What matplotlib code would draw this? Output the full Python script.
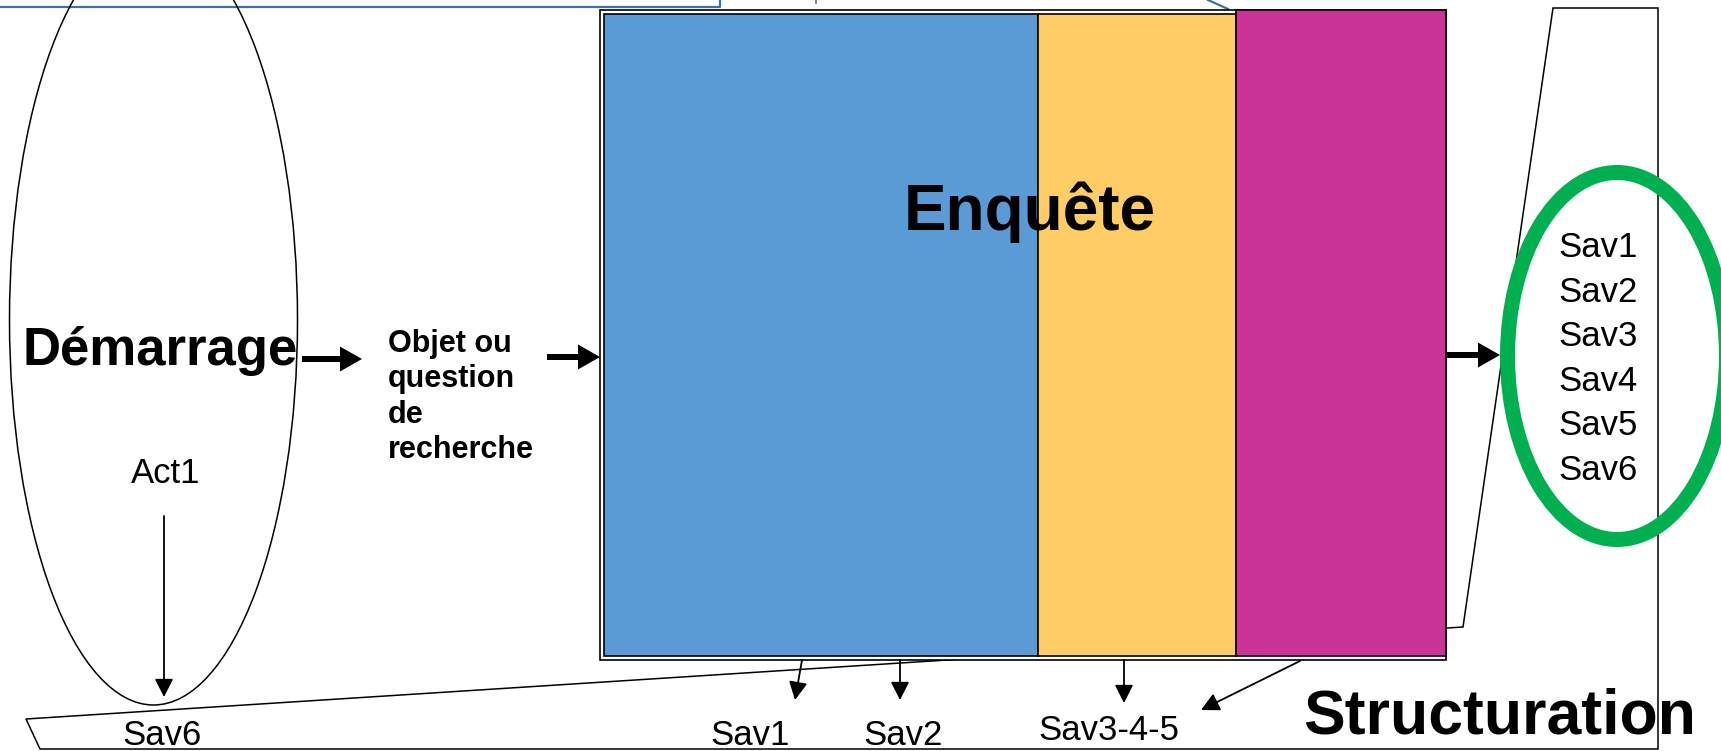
"""Schema: Démarrage -> Objet -> Enquête -> Savoirs, with Structuration frame.
Drawn in pixel coordinates of a 1721x751 canvas."""

import matplotlib
matplotlib.use("Agg")
import matplotlib.pyplot as plt
from matplotlib.patches import Ellipse, Rectangle, Polygon, FancyArrow

plt.rcParams["font.family"] = ["Liberation Sans", "DejaVu Sans"]

# text content
START_LABEL = "Démarrage"
OBJECT_LINES = ["Objet ou", "question", "de", "recherche"]
INQUIRY_LABEL = "Enquête"
STRUCT_LABEL = "Structuration"
ACT_LABEL = "Act1"
SAV_LIST = ["Sav1", "Sav2", "Sav3", "Sav4", "Sav5", "Sav6"]
BOTTOM_LABELS = ["Sav6", "Sav1", "Sav2", "Sav3-4-5"]

# inquiry phases (left to right) and their colours
PHASE_EDGES = [604, 1038, 1236, 1446]
PHASE_COLORS = ["#5B9BD5", "#FFCC66", "#CC3399"]

C_LINE = "#41719C"
C_GREEN = "#00B050"

W, H = 1721, 751
fig = plt.figure(figsize=(W / 100, H / 100), dpi=100)
ax = fig.add_axes([0, 0, 1, 1])
ax.set_xlim(0, W)
ax.set_ylim(H, 0)
ax.axis("off")

# remnants of callouts cut off at the top
ax.plot([0, 720, 720], [7, 7, 0], color=C_LINE, lw=1.6)
ax.plot([816, 816], [0, 2.5], color=C_LINE, lw=1.2)
ax.plot([1208, 1228], [0, 9], color=C_LINE, lw=1.6)

# structuration frame (behind the inquiry block)
ax.add_patch(Polygon([(26, 719), (1463, 627), (1553, 8), (1658, 8),
                      (1658, 749), (40, 749)], closed=True, fill=False,
                     edgecolor="black", lw=1.1, zorder=1))

# left ellipse
ax.add_patch(Ellipse((153.5, 320), 288, 770, fill=False, edgecolor="black",
                     lw=1.1, zorder=2))

# inquiry block with double frame
ax.add_patch(Rectangle((600, 10), 846, 650, facecolor="white",
                       edgecolor="black", lw=1.2, zorder=3))
for i, col in enumerate(PHASE_COLORS):
    top = 10 if i == len(PHASE_COLORS) - 1 else 14
    ax.add_patch(Rectangle((PHASE_EDGES[i], top), PHASE_EDGES[i + 1] - PHASE_EDGES[i],
                           656 - top, facecolor=col, edgecolor="black",
                           lw=1.2, zorder=4))

# green ellipse of knowledge
ax.add_patch(Ellipse((1617, 356), 219, 367, fill=False, edgecolor=C_GREEN,
                     lw=10.8, zorder=5))

# thick arrows
for x0, x1, y in [(302, 362, 359), (547, 600, 357), (1447, 1500, 355)]:
    ax.add_patch(FancyArrow(x0, y, x1 - x0, 0, width=6, head_width=25,
                            head_length=22, length_includes_head=True,
                            color="black", lw=0, zorder=6))

# thin arrows
thin = [((164, 516), (164, 697)), ((802, 660), (795, 700)),
        ((900, 660), (900, 700)), ((1124, 660), (1124, 703)),
        ((1300, 661), (1201, 710))]
for (xa, ya), (xb, yb) in thin:
    ax.annotate("", xy=(xb, yb), xytext=(xa, ya), zorder=6,
                arrowprops=dict(arrowstyle="-|>,head_length=0.55,head_width=0.28",
                                mutation_scale=20, color="black", lw=1.3,
                                shrinkA=0, shrinkB=0))

# texts
ax.text(160, 365, START_LABEL, fontsize=38, weight="bold", ha="center",
        va="baseline", zorder=7)
for i, line in enumerate(OBJECT_LINES):
    ax.text(388, 352 + 35.5 * i, line, fontsize=22, weight="bold", ha="left",
            va="baseline", zorder=7)
ax.text(166, 483, ACT_LABEL, fontsize=25, ha="center", va="baseline", zorder=7)
ax.text(904, 230, INQUIRY_LABEL, fontsize=46, weight="bold", ha="left",
        va="baseline", zorder=7)
for i, s in enumerate(SAV_LIST):
    ax.text(1558, 257 + 44.6 * i, s, fontsize=25, ha="left", va="baseline", zorder=7)
for s, x, y in zip(BOTTOM_LABELS, [162, 750, 903, 1109], [745, 745, 745, 740]):
    ax.text(x, y, s, fontsize=25, ha="center", va="baseline", zorder=7)
ax.text(1303, 733, STRUCT_LABEL, fontsize=45, weight="bold", ha="left",
        va="baseline", zorder=7)

fig.savefig("out.png", dpi=100)
